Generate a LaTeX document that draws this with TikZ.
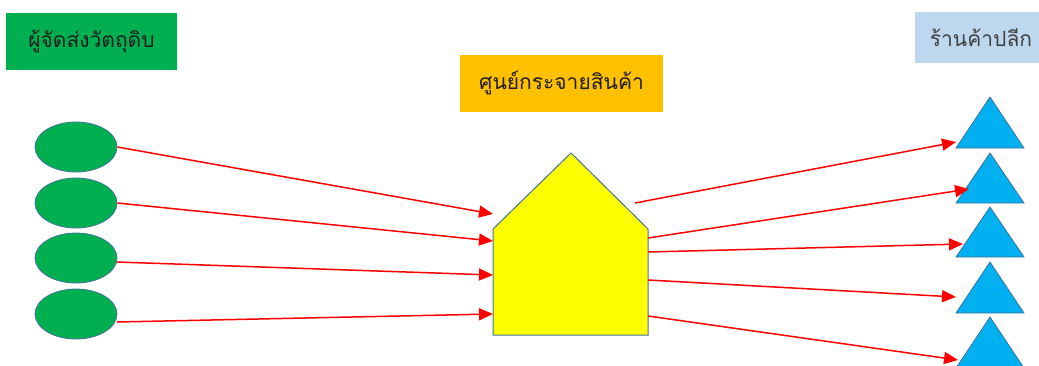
\documentclass[tikz,border=0pt]{standalone}
\usepackage{fontspec}
\newfontfamily\thaifont[Script=Thai]{Loma}
\usetikzlibrary{arrows.meta,shapes.geometric}
\definecolor{supgreen}{HTML}{00B050}
\definecolor{dcorange}{HTML}{FFC000}
\definecolor{shopblue}{HTML}{BDD7EE}
\definecolor{edgeblue}{HTML}{41719C}
\definecolor{triblue}{HTML}{00B0F0}
\definecolor{housey}{HTML}{FFFF00}
\definecolor{txtdark}{HTML}{1E1E1E}
\begin{document}
\begin{tikzpicture}[x=1pt,y=-1pt,
  labelbox/.style={inner sep=0pt, font=\thaifont\fontsize{21}{24}\selectfont, text=txtdark},
  supplier/.style={ellipse, fill=supgreen, draw=edgeblue, line width=0.8pt, minimum width=82pt, minimum height=50pt, inner sep=0pt},
  shop/.style={fill=triblue, draw=edgeblue, line width=0.8pt, line join=miter},
  flow/.style={draw=red, line width=1.5pt, -{Triangle[length=14pt,width=12pt]}}
]
\useasboundingbox (0,0) rectangle (1039,365);

% labels
\node[labelbox, fill=supgreen, minimum width=171pt, minimum height=57pt] (lsup) at (91.5,41.5) {ผู้จัดส่งวัตถุดิบ};
\node[labelbox, fill=dcorange, minimum width=203pt, minimum height=57pt] (ldc) at (561.5,83.5) {ศูนย์กระจายสินค้า};
\node[labelbox, fill=shopblue, minimum width=124pt, minimum height=51pt, text=black!75] (lshop) at (977,37.5) {\hspace*{8pt}ร้านค้าปลีก};

% suppliers
\node[supplier] (s1) at (76,147) {};
\node[supplier] (s2) at (76,203) {};
\node[supplier] (s3) at (76,258) {};
\node[supplier] (s4) at (76,314) {};

% distribution centre (house)
\draw[fill=housey, draw=edgeblue, line width=1pt] (571,153) -- (648,229) -- (648,335) -- (493,335) -- (493,229) -- cycle;
\coordinate (h1) at (493,214);
\coordinate (h2) at (493,241);
\coordinate (h3) at (493,275);
\coordinate (h4) at (493,314);
\coordinate (o1) at (635,203);
\coordinate (o2) at (648,238);
\coordinate (o3) at (648,252);
\coordinate (o4) at (648,280);
\coordinate (o5) at (648,316);

% shops (triangles)
\draw[shop] (990,97) -- (1024,148) -- (956,148) -- cycle;
\draw[shop] (990,153) -- (1024,203) -- (956,203) -- cycle;
\draw[shop] (990,207) -- (1024,257) -- (956,257) -- cycle;
\draw[shop] (990,262) -- (1024,313) -- (956,313) -- cycle;
\draw[shop] (990,317) -- (1024,368) -- (956,368) -- cycle;
\coordinate (t1) at (956,142);
\coordinate (t2) at (969,189);
\coordinate (t3) at (963,244);
\coordinate (t4) at (956,297);
\coordinate (t5) at (958,360);

% flows in
\draw[flow] (s1.east) -- (h1);
\draw[flow] (s2.east) -- (h2);
\draw[flow] (117,262) -- (h3);
\draw[flow] (117,322) -- (h4);
% flows out
\draw[flow] (o1) -- (t1);
\draw[flow] (o2) -- (t2);
\draw[flow] (o3) -- (t3);
\draw[flow] (o4) -- (t4);
\draw[flow] (o5) -- (t5);
\end{tikzpicture}
\end{document}
